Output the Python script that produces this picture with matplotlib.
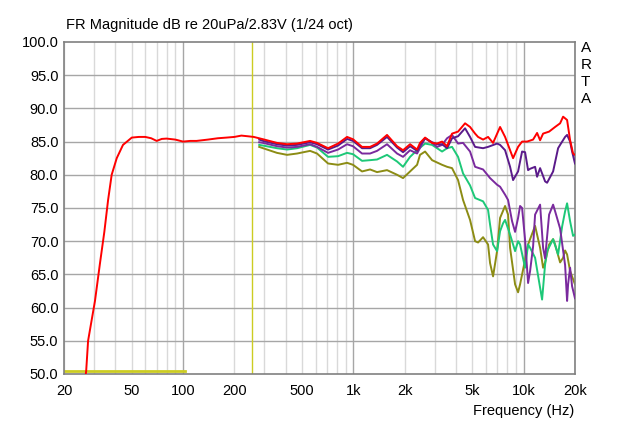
"""
plot.py
-------
ARTA-style frequency response plot (1/24 oct smoothing), on-axis and
four off-axis curves.
"""

import numpy as np
import matplotlib
matplotlib.use("Agg")

import matplotlib as mpl
import matplotlib.pyplot as plt
from matplotlib.ticker import FixedLocator, NullFormatter, NullLocator


# ============================================================
# DATA (Hz, dB)
# ============================================================

red_f = [26.0, 27.0, 27.7, 30.4, 32.5, 34.5, 36.3, 38.1, 40.8, 44.4, 50, 55, 60, 65, 70,
         75, 80, 90, 100, 110, 120, 140, 160, 180, 200, 220, 240, 260,
         295, 356, 408, 467, 557, 612, 710, 813, 918, 995, 1124, 1253, 1377, 1576,
         1805, 1957, 2152, 2366, 2462, 2636, 2898, 3100, 3317, 3549, 3796, 4117,
         4526, 4842, 5182, 5396, 5773, 6177, 6608, 7266, 7775, 8318, 8662, 9268,
         9783, 10468, 11353, 11984, 12480, 12998, 14097, 15290, 16358, 17036,
         17978, 18722, 19490, 20000]
red_db = [47.0, 50.5, 55.0, 61.0, 66.6, 71.4, 76.2, 80.0, 82.5, 84.5, 85.6, 85.7, 85.7, 85.5, 85.1,
          85.4, 85.45, 85.3, 85.0, 85.1, 85.1, 85.3, 85.5, 85.6, 85.7, 85.9, 85.8, 85.7,
          85.35, 84.8, 84.6, 84.7, 85.1, 84.8, 84.0, 84.7, 85.7, 85.35, 84.2, 84.2, 84.7, 86.0,
          84.3, 83.7, 84.6, 83.8, 84.8, 85.6, 84.8, 84.7, 85.0, 84.3, 86.2, 86.5,
          87.75, 87.2, 86.2, 85.7, 85.3, 85.7, 84.8, 87.2, 85.7, 83.7, 82.5, 84.2,
          85.0, 85.0, 85.3, 86.3, 85.2, 86.2, 86.5, 87.2, 87.75, 88.75,
          88.25, 85.2, 83.2, 83.0]

purple_a_f = [280, 295, 356, 408, 467, 557, 612, 710, 813, 918, 995, 1124, 1253, 1377, 1576,
              1805, 1957, 2152, 2366, 2462, 2636, 2898, 3100, 3317, 3549, 3796, 4117,
              4526, 4842, 5182, 5773, 6177, 6977, 7266, 7775, 8318, 8662, 9268, 9783,
              10188, 10610, 10901, 11664, 11984, 12480, 13355, 13720, 14881, 15921,
              16358, 17500, 17978, 18722, 19236, 20000]
purple_a_db = [85.3, 85.1, 84.6, 84.4, 84.5, 84.9, 84.6, 83.8, 84.4, 85.4, 85.1, 84.0, 84.0, 84.5, 85.7,
               84.1, 83.4, 84.3, 83.6, 84.5, 85.5, 84.9, 84.6, 84.6, 84.0, 85.5, 85.8,
               87.0, 85.7, 84.2, 84.0, 84.2, 84.7, 84.5, 83.7, 81.2, 79.2, 80.5, 83.5,
               83.4, 80.7, 80.9, 81.2, 79.7, 81.0, 79.0, 78.8, 80.5, 84.0,
               84.5, 85.7, 86.0, 85.0, 83.5, 81.7]

purple_b_f = [280, 295, 356, 408, 467, 557, 612, 710, 813, 918, 995, 1124, 1253, 1377, 1576,
              1805, 1957, 2152, 2366, 2636, 2898, 3100, 3317, 3549, 3796, 4117, 4405,
              4842, 5182, 5773, 6346, 6977, 7266, 7775, 8095, 8546, 8900, 9268, 9522,
              9783, 10188, 10610, 10901, 11353, 11664, 12480, 12998, 13355, 14097,
              14881, 15290, 16358, 17500, 17978, 18222, 18722, 19236, 20000]
purple_b_db = [84.9, 84.8, 84.3, 84.1, 84.2, 84.6, 84.2, 83.3, 83.8, 84.6, 84.3, 83.2, 83.2, 83.6, 84.6,
               83.2, 82.7, 83.7, 83.2, 85.5, 84.8, 84.2, 84.5, 85.5, 86.0, 84.7, 84.8,
               83.5, 81.2, 80.8, 79.5, 78.5, 78.2, 77.0, 76.2, 73.0, 71.4, 73.5, 75.3,
               75.0, 70.2, 63.7, 65.5, 69.2, 74.0, 75.5, 69.0, 67.4, 74.0,
               75.5, 74.5, 71.9, 66.4, 61.0, 63.5, 66.0, 63.2, 61.4]

green_f = [280, 295, 356, 408, 467, 557, 612, 710, 813, 918, 995, 1124, 1253, 1377, 1576,
           1805, 1957, 2152, 2366, 2636, 2898, 3100, 3317, 3549, 3796, 4117, 4405,
           4842, 5182, 5773, 6177, 6346, 6608, 6977, 7266, 7566, 7775, 8318, 8900,
           9268, 9522, 10188, 10610, 10901, 11664, 12480, 12822, 13355, 13720,
           14881, 15921, 16807, 17500, 17978, 18722, 19490, 20000]
green_db = [84.5, 84.4, 84.0, 83.8, 84.0, 84.5, 84.1, 82.7, 82.8, 83.3, 83.1, 82.1, 82.2, 82.3, 83.0,
            82.0, 81.2, 82.7, 83.7, 84.7, 84.5, 84.0, 83.5, 84.0, 84.2, 82.7, 80.2,
            78.4, 76.5, 76.0, 74.7, 72.5, 69.5, 68.5, 71.5, 72.7, 73.2, 71.0, 68.5,
            70.0, 69.5, 66.0, 69.5, 69.0, 67.5, 63.0, 61.2, 66.5, 68.5,
            70.3, 68.0, 72.2, 74.5, 75.7, 73.0, 70.8, 71.0]

olive_f = [280, 295, 356, 408, 467, 557, 612, 710, 813, 918, 995, 1124, 1253, 1377, 1576,
           1805, 1957, 2152, 2366, 2462, 2636, 2898, 3317, 3549, 3796, 4117, 4405,
           4842, 5182, 5396, 5773, 6177, 6346, 6608, 6977, 7266, 7775, 8095, 8318,
           8900, 9268, 9522, 10188, 10610, 11664, 12480, 12998, 13355, 14097,
           14881, 15290, 16358, 17036, 17500, 17978, 18722, 20000]
olive_db = [84.2, 84.0, 83.3, 83.0, 83.2, 83.6, 83.2, 81.7, 81.5, 81.8, 81.5, 80.5, 80.8, 80.4, 80.7,
            80.0, 79.5, 80.5, 81.5, 83.0, 83.5, 82.2, 81.5, 81.2, 81.0, 79.2, 76.2,
            73.2, 70.0, 69.8, 70.6, 69.5, 66.7, 64.7, 68.5, 73.5, 75.3, 74.0, 69.0,
            63.5, 62.3, 63.5, 67.2, 69.5, 72.3, 69.0, 66.0, 66.8, 69.5,
            70.3, 69.5, 66.8, 67.5, 68.6, 68.0, 65.5, 63.5]

# markers drawn by ARTA
marker_f = 254
low_limit_f = [20, 103]
low_limit_db = [50.4, 50.4]

x_ticks = [20, 50, 100, 200, 500, 1000, 2000, 5000, 10000, 20000]
x_tick_labels = ["20", "50", "100", "200", "500", "1k", "2k", "5k", "10k", "20k"]
y_ticks = np.arange(50, 100.1, 5)


# ============================================================
# STYLE
# ============================================================

RED = "#FF0000"
PURPLE_A = "#5A1A8A"
PURPLE_B = "#7A2A9E"
GREEN = "#1DC878"
OLIVE = "#8C8C14"
YELLOW = "#CCCC22"

mpl.rcParams.update({
    "font.family": "Liberation Sans",
    "font.size": 10.5,
})


# ============================================================
# FIGURE
# ============================================================

fig = plt.figure(figsize=(6.4, 4.24), dpi=100)
ax = fig.add_axes([0.1, 0.118, 0.7984, 0.783])

ax.set_xscale("log")
ax.set_xlim(20, 20000)
ax.set_ylim(50, 100)

# grid: minor decades light, major decades darker
minor = [m * 10 ** e for e in range(1, 5) for m in range(2, 10)]
minor = [v for v in minor if 20 <= v <= 20000]
for v in minor:
    ax.axvline(v, color="#D9D9D9", linewidth=1.0, zorder=0)
for v in [100, 1000, 10000]:
    ax.axvline(v, color="#A6A6A6", linewidth=1.0, zorder=0)
for v in y_ticks[1:-1]:
    ax.axhline(v, color="#A6A6A6", linewidth=1.0, zorder=0)

ax.axvline(marker_f, color=YELLOW, linewidth=1.0, zorder=1)
ax.plot(low_limit_f, low_limit_db, color=YELLOW, linewidth=2.0, zorder=1)

ax.plot(olive_f, olive_db, color=OLIVE, linewidth=1.4, zorder=2)
ax.plot(green_f, green_db, color=GREEN, linewidth=1.4, zorder=3)
ax.plot(purple_b_f, purple_b_db, color=PURPLE_B, linewidth=1.4, zorder=4)
ax.plot(purple_a_f, purple_a_db, color=PURPLE_A, linewidth=1.4, zorder=5)
ax.plot(red_f, red_db, color=RED, linewidth=1.4, zorder=6)

ax.xaxis.set_major_locator(FixedLocator(x_ticks))
ax.set_xticklabels(x_tick_labels)
ax.xaxis.set_minor_locator(NullLocator())
ax.xaxis.set_minor_formatter(NullFormatter())
ax.set_yticks(y_ticks)
ax.set_yticklabels([f"{v:.1f}" for v in y_ticks])
ax.tick_params(axis="both", length=0, pad=4, labelsize=10.5, colors="black")
ax.tick_params(axis="x", pad=7)

for side in ["left", "bottom", "top", "right"]:
    ax.spines[side].set_color("#808080")
    ax.spines[side].set_linewidth(1.2)

fig.text(0.103, 0.925, "FR Magnitude dB re 20uPa/2.83V (1/24 oct)",
         fontsize=10.5, ha="left", va="bottom")
fig.text(0.898, 0.03, "Frequency (Hz)", fontsize=10.5, ha="right", va="center")

for i, ch in enumerate("ARTA"):
    fig.text(0.907, 0.887 - i * 0.04, ch, fontsize=11, ha="left", va="center")

fig.savefig("out.png", dpi=100)
plt.close(fig)
